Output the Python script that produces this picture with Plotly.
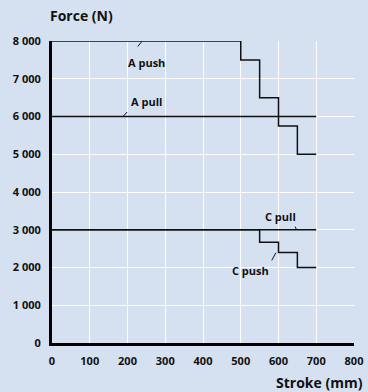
import plotly.graph_objects as go

# Force vs stroke characteristics (stepped curves)
stroke_a_push = [0, 500, 500, 550, 550, 600, 600, 650, 650, 700]
force_a_push = [8000, 8000, 7500, 7500, 6500, 6500, 5750, 5750, 5000, 5000]

stroke_a_pull = [0, 700]
force_a_pull = [6000, 6000]

stroke_c_pull = [0, 700]
force_c_pull = [3000, 3000]

stroke_c_push = [0, 550, 550, 600, 600, 650, 650, 700]
force_c_push = [3000, 3000, 2670, 2670, 2400, 2400, 2000, 2000]

x_ticks = [0, 100, 200, 300, 400, 500, 600, 700, 800]
y_ticks = [0, 1000, 2000, 3000, 4000, 5000, 6000, 7000, 8000]
y_tick_text = ["0", "1 000", "2 000", "3 000", "4 000", "5 000", "6 000", "7 000", "8 000"]

BG = "#d5e0f1"
FONT = "Open Sans"
INK = "#111111"

fig = go.Figure()
for xs, ys in [(stroke_a_push, force_a_push), (stroke_a_pull, force_a_pull),
               (stroke_c_pull, force_c_pull), (stroke_c_push, force_c_push)]:
    fig.add_trace(go.Scatter(x=xs, y=ys, mode="lines",
                             line=dict(color=INK, width=1.5),
                             hoverinfo="skip", showlegend=False))

# Curve labels: text position, plus a short leader line (tail -> point on curve)
labels = [
    # text, text x, text y, leader tail (x, y), leader head (x, y)
    ("A push", 249, 7443, 224, 7815, 239, 8000),
    ("A pull", 250, 6400, 203, 6160, 188, 6000),
    ("C pull", 605, 3350, 642, 3122, 648, 3000),
    ("C push", 527, 1925, 580, 2150, 593, 2390),
]
for text, tx, ty, x0, y0, x1, y1 in labels:
    fig.add_annotation(x=tx, y=ty, text=text, showarrow=False,
                       font=dict(family=FONT, size=11, color=INK, weight="bold"))
    fig.add_annotation(x=x1, y=y1, ax=x0, ay=y0, axref="x", ayref="y",
                       text="", showarrow=True, arrowhead=0, arrowwidth=1,
                       arrowcolor=INK, standoff=0, startstandoff=0)

fig.add_annotation(xref="paper", yref="paper", x=-0.012, y=1.0, yshift=26,
                   xanchor="left", yanchor="middle", showarrow=False,
                   text="Force (N)",
                   font=dict(family=FONT, size=14, color=INK, weight="bold"))
fig.add_annotation(xref="paper", yref="paper", x=1.0, y=0, yshift=-39, xshift=11,
                   xanchor="right", yanchor="middle", showarrow=False,
                   text="Stroke (mm)",
                   font=dict(family=FONT, size=14, color=INK, weight="bold"))

axis_font = dict(family=FONT, size=11, color=INK, weight="bold")
fig.update_xaxes(range=[0, 800], tickvals=x_ticks, ticktext=[str(v) for v in x_ticks],
                 showgrid=True, gridcolor="white", gridwidth=1, zeroline=False,
                 showline=True, linecolor="black", linewidth=3, ticks="",
                 tickfont=axis_font, ticklabelstandoff=6, automargin=False,
                 fixedrange=True)
fig.update_yaxes(range=[0, 8000], tickvals=y_ticks, ticktext=y_tick_text,
                 showgrid=True, gridcolor="white", gridwidth=1, zeroline=False,
                 showline=True, linecolor="black", linewidth=3, ticks="",
                 tickfont=axis_font, ticklabelstandoff=6, automargin=False,
                 fixedrange=True)

fig.update_layout(width=368, height=392, paper_bgcolor=BG, plot_bgcolor=BG,
                  margin=dict(l=52, r=14, t=41, b=49),
                  font=dict(family=FONT))

fig.write_html("out.html", config={"displayModeBar": False})
